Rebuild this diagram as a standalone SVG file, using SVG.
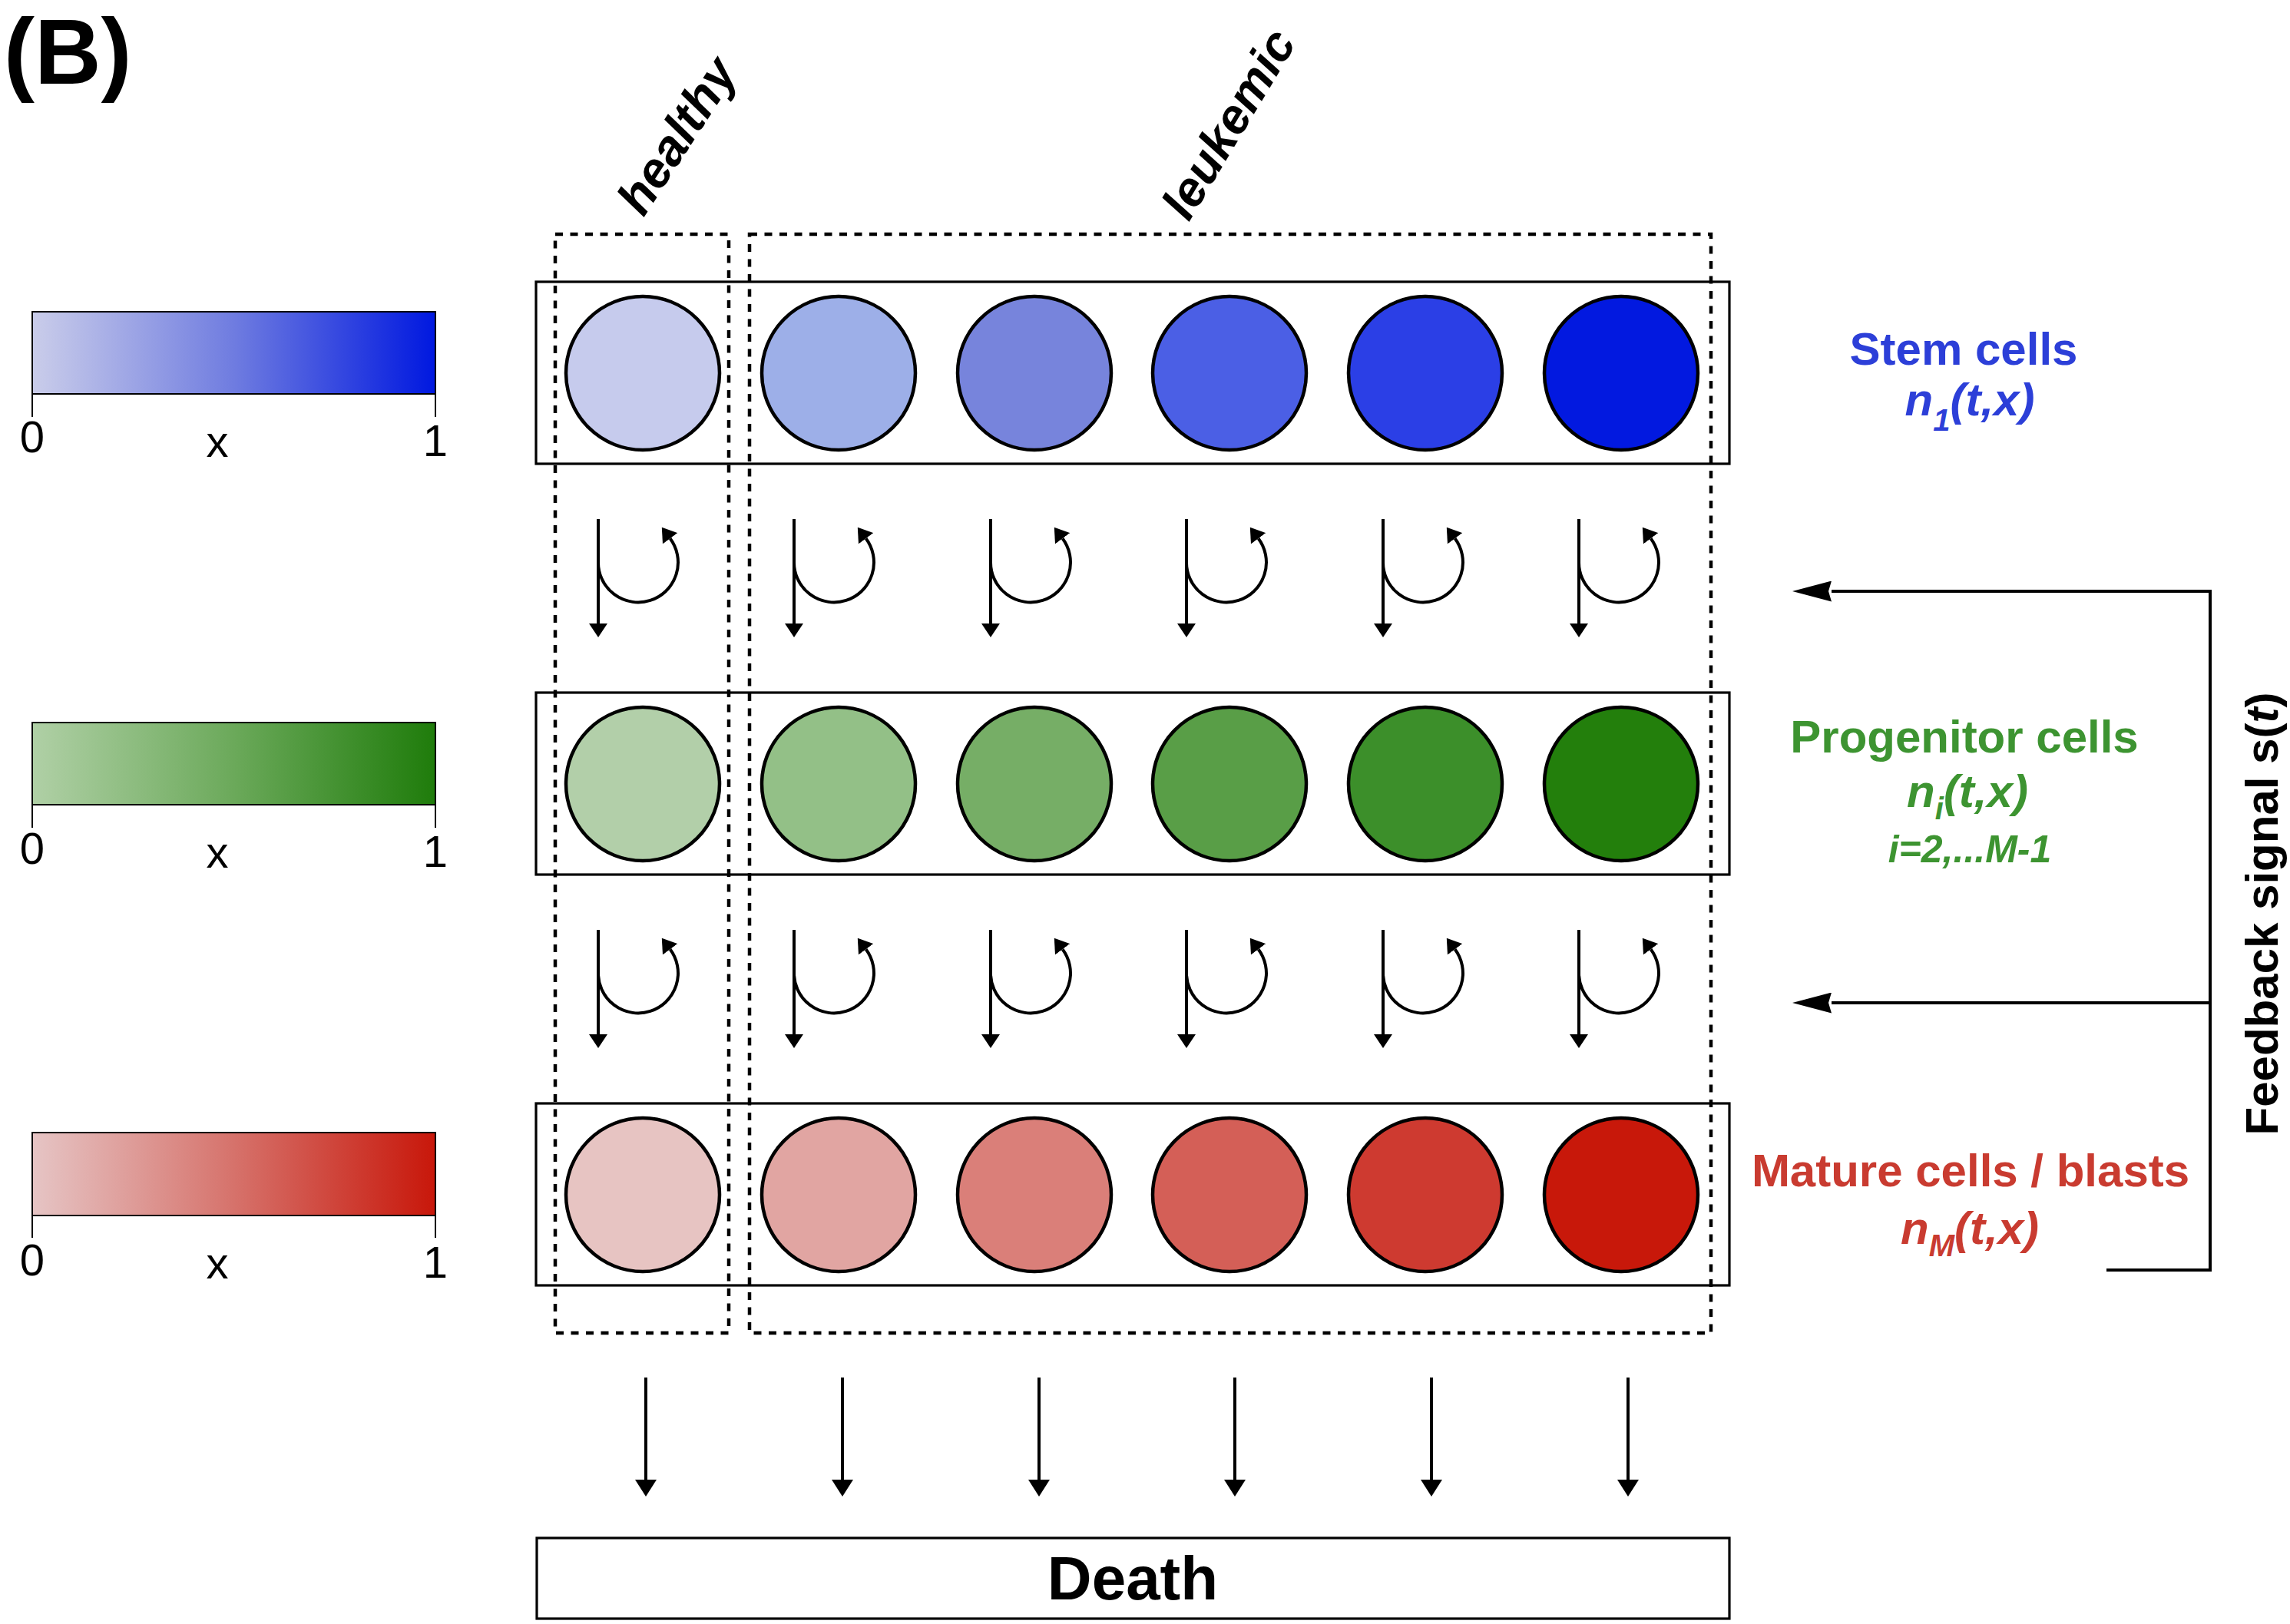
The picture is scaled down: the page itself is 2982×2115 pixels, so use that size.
<svg xmlns="http://www.w3.org/2000/svg" width="2982" height="2115" viewBox="0 0 2982 2115">
<style>
text{font-family:"Liberation Sans",Arial,sans-serif}
.b{font-weight:bold}
.bi{font-weight:bold;font-style:italic}
.tick{font-size:58px;fill:#000}
.row{fill:none;stroke:#000;stroke-width:3.2}
.cell{stroke:#000;stroke-width:4.5}
.dash{fill:none;stroke:#000;stroke-width:4.5;stroke-dasharray:10 9.5}
.ln{fill:none;stroke:#000;stroke-width:4}
.bar{stroke:#000;stroke-width:2}
</style>
<defs>
<linearGradient id="gb" x1="0" x2="1" y1="0" y2="0"><stop offset="0" stop-color="#cacdea"/><stop offset="0.5" stop-color="#6f7ce0"/><stop offset="1" stop-color="#0018e0"/></linearGradient>
<linearGradient id="gg" x1="0" x2="1" y1="0" y2="0"><stop offset="0" stop-color="#b0d0a6"/><stop offset="0.5" stop-color="#6ba95a"/><stop offset="1" stop-color="#1f7c0b"/></linearGradient>
<linearGradient id="gr" x1="0" x2="1" y1="0" y2="0"><stop offset="0" stop-color="#e6c5c5"/><stop offset="0.5" stop-color="#d6726b"/><stop offset="1" stop-color="#c8170a"/></linearGradient>
<marker id="ah" markerUnits="userSpaceOnUse" markerWidth="18" markerHeight="24" viewBox="0 0 18 24" refX="0" refY="12" orient="auto"><path d="M0,0 L18,12 L0,24 z" fill="#000"/></marker>
<marker id="ad" markerUnits="userSpaceOnUse" markerWidth="22" markerHeight="28" viewBox="0 0 22 28" refX="0" refY="14" orient="auto"><path d="M0,0 L22,14 L0,28 z" fill="#000"/></marker>
<marker id="af" markerUnits="userSpaceOnUse" markerWidth="51" markerHeight="27" viewBox="0 0 51 27" refX="0" refY="13.5" orient="auto"><path d="M0,0 L51,13.5 L0,27 L4,13.5 z" fill="#000"/></marker>
<g id="cyc"><path class="ln" d="M0,0 V136" marker-end="url(#ah)"/><path class="ln" d="M0,55 A52,52 0 1,0 93.6,25.2" marker-end="url(#ah)"/></g>
</defs>
<rect width="2982" height="2115" fill="#fff"/>
<text class="b" x="5" y="109" font-size="120">(B)</text>

<g id="legend-stem">
<rect class="bar" x="42" y="406" width="525" height="107" fill="url(#gb)"/>
<path class="bar" d="M42,513 V543 M567,513 V543"/>
<text class="tick" x="42" y="589" text-anchor="middle">0</text><text class="tick" x="283" y="595" text-anchor="middle">x</text><text class="tick" x="567" y="594" text-anchor="middle">1</text>
</g>
<g id="legend-prog">
<rect class="bar" x="42" y="941" width="525" height="107" fill="url(#gg)"/>
<path class="bar" d="M42,1048 V1078 M567,1048 V1078"/>
<text class="tick" x="42" y="1125" text-anchor="middle">0</text><text class="tick" x="283" y="1130" text-anchor="middle">x</text><text class="tick" x="567" y="1129" text-anchor="middle">1</text>
</g>
<g id="legend-mature">
<rect class="bar" x="42" y="1475" width="525" height="108" fill="url(#gr)"/>
<path class="bar" d="M42,1583 V1612 M567,1583 V1612"/>
<text class="tick" x="42" y="1661" text-anchor="middle">0</text><text class="tick" x="283" y="1665" text-anchor="middle">x</text><text class="tick" x="567" y="1664" text-anchor="middle">1</text>
</g>

<g id="group-labels">
<text class="bi" font-size="65" transform="translate(838,284) rotate(-57)">healthy</text>
<text class="bi" font-size="64" transform="translate(1548,290) rotate(-59)">leukemic</text>
</g>

<g id="stem-row">
<rect class="row" x="698" y="367" width="1554" height="237"/>
<circle class="cell" cx="837" cy="486" r="100" fill="#c6cbed"/>
<circle class="cell" cx="1092" cy="486" r="100" fill="#9dafe8"/>
<circle class="cell" cx="1347" cy="486" r="100" fill="#7784dc"/>
<circle class="cell" cx="1601" cy="486" r="100" fill="#4b5fe5"/>
<circle class="cell" cx="1856" cy="486" r="100" fill="#2b3fe6"/>
<circle class="cell" cx="2111" cy="486" r="100" fill="#0219e0"/>
</g>
<g id="progenitor-row">
<rect class="row" x="698" y="902" width="1554" height="237"/>
<circle class="cell" cx="837" cy="1021" r="100" fill="#b2cfa9"/>
<circle class="cell" cx="1092" cy="1021" r="100" fill="#93c087"/>
<circle class="cell" cx="1347" cy="1021" r="100" fill="#76ae66"/>
<circle class="cell" cx="1601" cy="1021" r="100" fill="#599e47"/>
<circle class="cell" cx="1856" cy="1021" r="100" fill="#3c8f2a"/>
<circle class="cell" cx="2111" cy="1021" r="100" fill="#237f0c"/>
</g>
<g id="mature-row">
<rect class="row" x="698" y="1437" width="1554" height="237"/>
<circle class="cell" cx="837" cy="1556" r="100" fill="#e7c4c2"/>
<circle class="cell" cx="1092" cy="1556" r="100" fill="#e1a5a2"/>
<circle class="cell" cx="1347" cy="1556" r="100" fill="#da7f79"/>
<circle class="cell" cx="1601" cy="1556" r="100" fill="#d45f57"/>
<circle class="cell" cx="1856" cy="1556" r="100" fill="#ce3a30"/>
<circle class="cell" cx="2111" cy="1556" r="100" fill="#c8180a"/>
</g>

<g id="healthy-box"><rect class="dash" x="723" y="305" width="226" height="1431"/></g>
<g id="leukemic-box"><rect class="dash" x="976" y="305" width="1252" height="1431"/></g>

<g id="death">
<rect class="row" x="699" y="2003" width="1553" height="105"/>
<text class="b" x="1475" y="2083" font-size="80" text-anchor="middle">Death</text>
</g>

<g id="labels">
<text class="b" x="2557" y="475" font-size="60" fill="#2c3fd8" text-anchor="middle">Stem cells</text>
<text class="bi" x="2565" y="541" font-size="60" fill="#2c3fd8" text-anchor="middle">n<tspan font-size="40" dy="20">1</tspan><tspan dy="-20">(t,x)</tspan></text>
<text class="b" x="2558" y="980" font-size="60" fill="#3d9431" text-anchor="middle">Progenitor cells</text>
<text class="bi" x="2562" y="1051" font-size="60" fill="#3d9431" text-anchor="middle">n<tspan font-size="40" dy="16">i</tspan><tspan dy="-16">(t,x)</tspan></text>
<text class="bi" x="2565" y="1123" font-size="50" fill="#3d9431" text-anchor="middle">i=2,...M-1</text>
<text class="b" x="2566" y="1545" font-size="60" fill="#c93b30" text-anchor="middle">Mature cells / blasts</text>
<text class="bi" x="2565" y="1620" font-size="60" fill="#c93b30" text-anchor="middle">n<tspan font-size="40" dy="16">M</tspan><tspan dy="-16">(t,x)</tspan></text>
<text class="b" font-size="60" text-anchor="middle" transform="translate(2966,1190) rotate(-90)">Feedback signal s(<tspan font-style="italic">t</tspan>)</text>
</g>

<g id="connectors">
<use href="#cyc" x="779" y="676"/>
<use href="#cyc" x="1034" y="676"/>
<use href="#cyc" x="1290" y="676"/>
<use href="#cyc" x="1545" y="676"/>
<use href="#cyc" x="1801" y="676"/>
<use href="#cyc" x="2056" y="676"/>
<use href="#cyc" x="779" y="1211"/>
<use href="#cyc" x="1034" y="1211"/>
<use href="#cyc" x="1290" y="1211"/>
<use href="#cyc" x="1545" y="1211"/>
<use href="#cyc" x="1801" y="1211"/>
<use href="#cyc" x="2056" y="1211"/>
<path class="ln" d="M841,1794 V1927" marker-end="url(#ad)"/>
<path class="ln" d="M1097,1794 V1927" marker-end="url(#ad)"/>
<path class="ln" d="M1353,1794 V1927" marker-end="url(#ad)"/>
<path class="ln" d="M1608,1794 V1927" marker-end="url(#ad)"/>
<path class="ln" d="M1864,1794 V1927" marker-end="url(#ad)"/>
<path class="ln" d="M2120,1794 V1927" marker-end="url(#ad)"/>
<path class="ln" d="M2743,1654 H2878 V770 H2385" marker-end="url(#af)"/>
<path class="ln" d="M2878,1306 H2385" marker-end="url(#af)"/>
</g>
</svg>
